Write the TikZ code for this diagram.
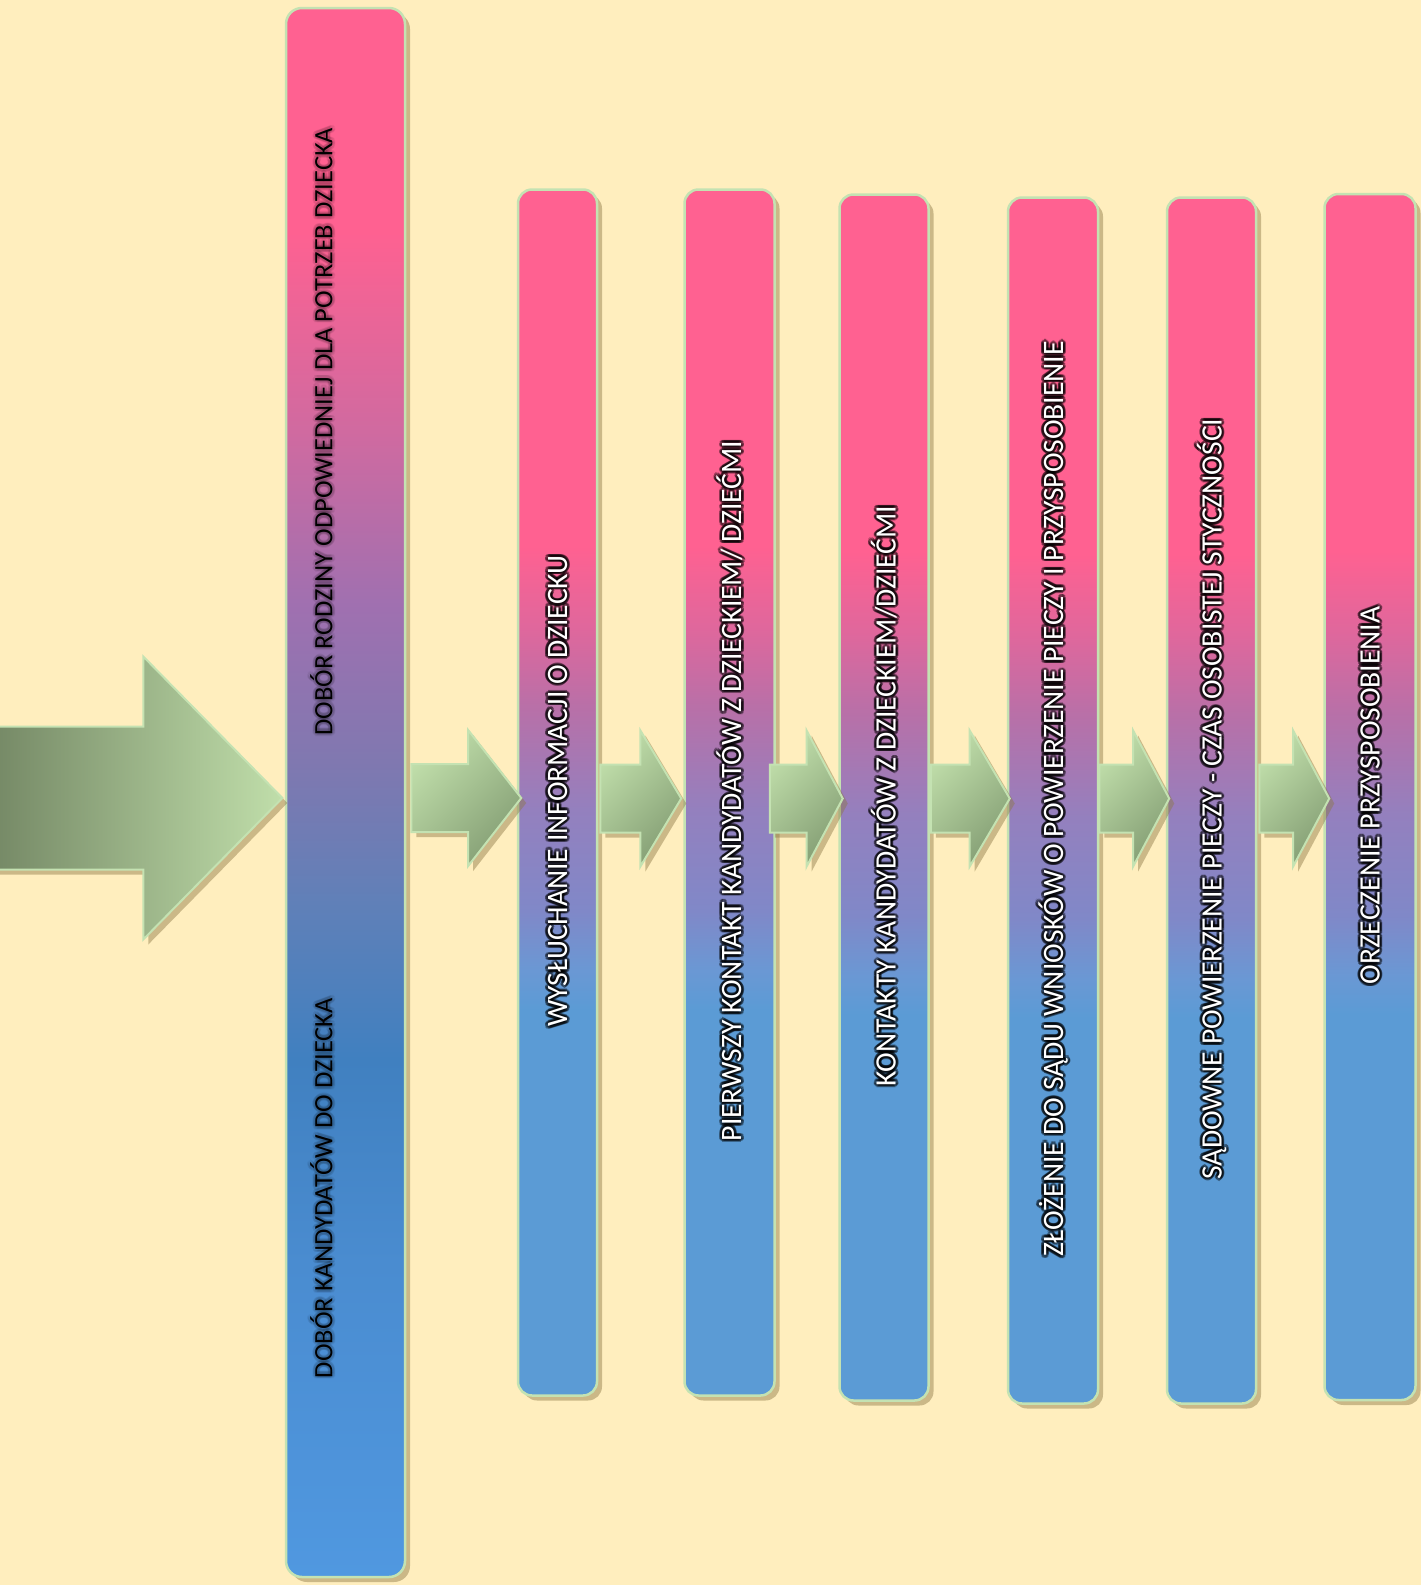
\documentclass[tikz,border=0pt]{standalone}
\usepackage{fontspec}
\setmainfont{Carlito}
\usepackage{xcolor}
\usepackage{tikz}
\usetikzlibrary{shapes,arrows,positioning,shadows}

\definecolor{pagebg}{RGB}{255,238,190}
\definecolor{barrim}{RGB}{196,226,178}
\definecolor{barpink}{RGB}{255,97,145}
\definecolor{barblue}{RGB}{91,155,213}
\definecolor{fadeA}{RGB}{106,152,212}
\definecolor{fadeB}{RGB}{128,136,200}
\definecolor{fadeC}{RGB}{148,128,190}
\definecolor{fadeD}{RGB}{184,112,168}
\definecolor{fadeE}{RGB}{224,103,156}
\definecolor{bigA}{RGB}{80,152,224}
\definecolor{bigB}{RGB}{74,140,208}
\definecolor{bigC}{RGB}{64,128,192}
\definecolor{bigD}{RGB}{96,128,184}
\definecolor{bigE}{RGB}{128,120,176}
\definecolor{bigF}{RGB}{160,112,176}
\definecolor{bigG}{RGB}{208,106,160}
\definecolor{arrowlight}{RGB}{192,222,170}
\definecolor{arrowdark}{RGB}{132,158,116}
\definecolor{bigarrowdark}{RGB}{113,132,98}
\definecolor{shadowtone}{RGB}{140,120,70}

\pgfdeclareverticalshading{bar-fade}{100bp}{color(0bp)=(barblue); color(41bp)=(barblue); color(42.6bp)=(fadeA); color(45.1bp)=(fadeB); color(49.3bp)=(fadeC); color(53.5bp)=(fadeD); color(56.9bp)=(fadeE); color(60.2bp)=(barpink); color(100bp)=(barpink)}
\pgfdeclareverticalshading{big-fade}{100bp}{color(0bp)=(bigA); color(25bp)=(bigA); color(35bp)=(bigB); color(41.5bp)=(bigC); color(46.5bp)=(bigD); color(51bp)=(bigE); color(56bp)=(bigF); color(61.5bp)=(bigG); color(68bp)=(barpink); color(100bp)=(barpink)}

\tikzset{soft-shadow/.style={drop shadow={shadow xshift=5pt, shadow yshift=-5pt, opacity=0.45, fill=shadowtone}}}
\tikzset{bar-node/.style={draw=barrim, line width=2.5pt, inner sep=0, minimum width=89pt, minimum height=1206pt, rounded corners=14pt, shade, shading=bar-fade, soft-shadow}}
\tikzset{big-bar/.style={bar-node, minimum width=119pt, minimum height=1569pt, rounded corners=16pt, shading=big-fade}}
\tikzset{step-arrow/.style={
        single arrow,
        draw=barrim,
        line width=2pt,
        inner xsep=0pt,
        inner ysep=33pt,
        single arrow head extend=34pt,
        top color=arrowlight,
        bottom color=arrowdark,
        shading angle=45,
        soft-shadow
    }
}
\tikzset{big-arrow/.style={single arrow, draw=barrim, line width=2pt, inner xsep=0pt, inner ysep=70.5pt, single arrow head extend=70pt, single arrow tip angle=91, minimum height=305pt, left color=bigarrowdark, right color=arrowlight, soft-shadow}}
\tikzset{bar-text/.style={rotate=90, text=white, inner sep=0, font=\fontsize{29.6}{36}\selectfont}}
\tikzset{big-text/.style={rotate=90, text=black, inner sep=0, font=\fontsize{26.5}{32}\selectfont}}

\newcommand{\glowlabel}[5]{%
    \foreach \ang in {0,30,...,330}
        \node[#1, text=black, text opacity=#5, shift={(\ang:2.8pt)}] (#2-\ang) at (#3) {#4};
    \node[#1] (#2) at (#3) {#4};
}

\begin{document}
\begin{tikzpicture}[x=1pt, y=-1pt]
            \useasboundingbox (0,0) rectangle (1421,1585);
            \fill[pagebg] (0,0) rectangle (1421,1585);

            \node[big-bar] (bar0) at (345.5,792.5) {};

            \node[bar-node, minimum width=79pt, right=110.5pt of bar0.east] (bar1) {};
            \node[bar-node, minimum width=90pt, right=85pt of bar1.east] (bar2) {};
            \node[bar-node, right=62.5pt of bar2.east, yshift=-5pt] (bar3) {};
            \node[bar-node, minimum width=90pt, right=77pt of bar3.east, yshift=-3pt] (bar4) {};
            \node[bar-node, right=66.5pt of bar4.east] (bar5) {};
            \node[bar-node, minimum width=91pt, right=66pt of bar5.east, yshift=3.5pt] (bar6) {};

            \node[big-arrow, anchor=tip] (arrow0) at ([xshift=-1pt, yshift=-5.5pt]bar0.west) {};

            \node[step-arrow, minimum height=110pt, single arrow tip angle=104, anchor=tail] (arrow1) at ([xshift=4pt, yshift=-5.5pt]bar0.east) {};
            \node[step-arrow, minimum height=81pt, single arrow tip angle=118, anchor=tail] (arrow2) at ([xshift=1pt, yshift=-6pt]bar1.east) {};
            \node[step-arrow, minimum height=73pt, single arrow tip angle=124, anchor=tail] (arrow3) at ([xshift=-7pt, yshift=-6pt]bar2.east) {};
            \node[step-arrow, minimum height=79pt, single arrow tip angle=119, anchor=tail] (arrow4) at ([yshift=-1pt]bar3.east) {};
            \node[step-arrow, minimum height=70pt, single arrow tip angle=124, anchor=tail] (arrow5) at ([xshift=-1pt, yshift=2pt]bar4.east) {};
            \node[step-arrow, minimum height=70pt, single arrow tip angle=124, anchor=tail] (arrow6) at ([xshift=1pt, yshift=2pt]bar5.east) {};

            \glowlabel{big-text}{bigtext1}{[xshift=-24pt, yshift=361pt]bar0.center}{DOBÓR RODZINY ODPOWIEDNIEJ DLA POTRZEB DZIECKA}{0.06}
            \glowlabel{big-text}{bigtext2}{[xshift=-24pt, yshift=-395.5pt]bar0.center}{DOBÓR KANDYDATÓW DO DZIECKA}{0.06}

            \glowlabel{bar-text}{text1}{[yshift=1.5pt]bar1.center}{WYSŁUCHANIE INFORMACJI O DZIECKU}{0.4}
            \glowlabel{bar-text}{text2}{[yshift=1.5pt]bar2.center}{PIERWSZY KONTAKT KANDYDATÓW Z DZIECKIEM/ DZIEĆMI}{0.4}
            \glowlabel{bar-text}{text3}{[yshift=1.5pt]bar3.center}{KONTAKTY KANDYDATÓW Z DZIECKIEM/DZIEĆMI}{0.4}
            \glowlabel{bar-text}{text4}{[yshift=1.5pt]bar4.center}{ZŁOŻENIE DO SĄDU WNIOSKÓW O POWIERZENIE PIECZY I PRZYSPOSOBIENIE}{0.4}
            \glowlabel{bar-text}{text5}{[yshift=1.5pt]bar5.center}{SĄDOWNE POWIERZENIE PIECZY - CZAS OSOBISTEJ STYCZNOŚCI}{0.4}
            \glowlabel{bar-text}{text6}{[yshift=1.5pt]bar6.center}{ORZECZENIE PRZYSPOSOBIENIA}{0.4}

        \end{tikzpicture}
\end{document}
